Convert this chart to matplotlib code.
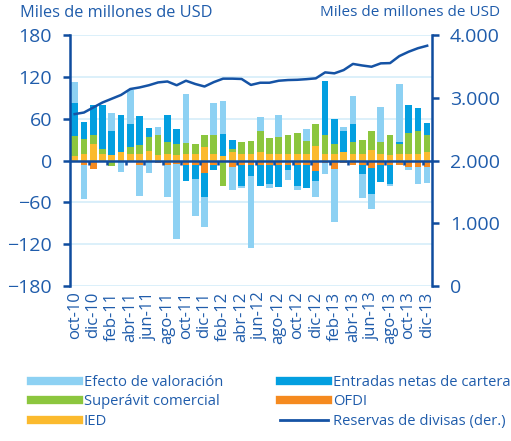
import numpy as np
import matplotlib.pyplot as plt
from matplotlib.lines import Line2D
from matplotlib.ticker import FuncFormatter

plt.rcParams['font.family'] = ['Open Sans', 'DejaVu Sans']

months = ['oct-10', 'nov-10', 'dic-10', 'ene-11', 'feb-11', 'mar-11', 'abr-11', 'may-11', 'jun-11',
          'jul-11', 'ago-11', 'sep-11', 'oct-11', 'nov-11', 'dic-11', 'ene-12', 'feb-12', 'mar-12',
          'abr-12', 'may-12', 'jun-12', 'jul-12', 'ago-12', 'sep-12', 'oct-12', 'nov-12', 'dic-12',
          'ene-13', 'feb-13', 'mar-13', 'abr-13', 'may-13', 'jun-13', 'jul-13', 'ago-13', 'sep-13',
          'oct-13', 'nov-13', 'dic-13']

# miles de millones de USD
ied = [7, 10, 23, 10, 8, 12, 9, 10, 13, 8, 9, 8, 9, 9, 19, 10, 6, 12, 9, 9, 12, 9, 9, 9, 9, 9, 21,
       10, 9, 12, 9, 10, 15, 10, 8, 10, 9, 9, 12]
ofdi = [-2, -7, -12, -2, -1, -1, -2, -7, -2, -3, -6, -5, -6, -6, -18, -6, -2, -9, -7, -6, -7, -7, -6,
        -6, -6, -6, -15, -3, -12, -3, -6, -6, -11, -7, -6, -6, -9, -10, -9]
superavit = [28, 21, 13, 7, -7, 0, 11, 12, 21, 29, 17, 15, 16, 14, 17, 27, -35, 5, 18, 19, 31, 23,
             25, 27, 31, 19, 31, 27, 14, -1, 18, 20, 27, 17, 29, 14, 31, 34, 25]
cartera = [48, 24, 43, 62, 35, 53, 32, 42, 12, 0, 39, 22, -24, -21, -35, -8, 32, 12, -29, -16, -29,
           -26, -32, -8, -31, -33, -15, 77, 37, 31, 26, -13, -37, -24, -27, 2, 40, 32, 17]
valoracion = [29, -48, 0, 0, 25, -15, 49, -44, -16, 11, -47, -107, 71, -53, -42, 46, 48, -33, -4,
              -103, 19, -7, 31, -14, -6, 17, -22, -17, -76, 5, 39, -35, -21, 50, -4, 84, -4, -23, -23]
# reservas de divisas, eje derecho
reservas = [2740, 2765, 2845, 2925, 2985, 3045, 3140, 3165, 3200, 3245, 3260, 3200, 3272, 3220,
            3180, 3250, 3305, 3305, 3300, 3205, 3240, 3240, 3272, 3283, 3287, 3297, 3310, 3405,
            3390, 3442, 3540, 3515, 3495, 3549, 3553, 3665, 3734, 3790, 3830]

dark = '#0F4C9E'
txt = '#1F5CAB'
grid_c = '#D6EDF9'
series = [(ied, '#FBBA2E', 'IED'),
          (ofdi, '#F58A1F', 'OFDI'),
          (superavit, '#8CC63E', 'Superávit comercial'),
          (cartera, '#039FE0', 'Entradas netas de cartera'),
          (valoracion, '#8DD1F3', 'Efecto de valoración')]

fig = plt.figure(figsize=(5.11, 4.41), dpi=100)
ax = fig.add_axes([0.137, 0.3515, 0.708, 0.569])
x = np.arange(len(months))

pos = np.zeros(len(x))
neg = np.zeros(len(x))
for vals, col, lab in series:
    v = np.array(vals, dtype=float)
    bottom = np.where(v >= 0, pos, neg)
    ax.bar(x, v, 0.72, bottom=bottom, color=col, edgecolor='none', zorder=2)
    pos += np.where(v >= 0, v, 0)
    neg += np.where(v < 0, v, 0)

ax.set_xlim(-0.5, len(x) - 0.5)
ax.set_ylim(-180, 180)
ax.set_yticks(np.arange(-180, 181, 60))
ax.yaxis.grid(True, color=grid_c, lw=1.2, zorder=0)
ax.set_axisbelow(True)
ax.axhline(0, color=dark, lw=1.8, zorder=3)
ax.vlines(np.arange(1.5, len(x), 2), -7, 0, color=dark, lw=1.8, zorder=3)

ax.set_xticks(x[::2])
ax.set_xticklabels(months[::2], rotation=90, fontsize=12, color=txt)
ax.tick_params(axis='x', length=0, pad=4)
ax.tick_params(axis='y', colors=dark, labelcolor=txt, labelsize=14, length=5, width=1.8, pad=8)
for s in ['top', 'bottom', 'right']:
    ax.spines[s].set_visible(False)
ax.spines['left'].set_color(dark)
ax.spines['left'].set_linewidth(1.8)

ax2 = ax.twinx()
ax2.plot(x, reservas, color='#1553A5', lw=1.8, zorder=4)
ax2.set_ylim(0, 4000)
ax2.set_yticks(np.arange(0, 4001, 1000))
ax2.yaxis.set_major_formatter(FuncFormatter(lambda v, p: f'{int(v):,}'.replace(',', '.')))
ax2.tick_params(axis='y', colors=dark, labelcolor=txt, labelsize=14, length=5, width=1.8, pad=8)
for s in ['top', 'bottom', 'left']:
    ax2.spines[s].set_visible(False)
ax2.spines['right'].set_color(dark)
ax2.spines['right'].set_linewidth(1.8)

fig.text(0.04, 0.988, 'Miles de millones de USD', fontsize=11.8, color=txt, va='top', ha='left')
fig.text(0.978, 0.988, 'Miles de millones de USD', fontsize=11, color=txt, va='top', ha='right')

handles = [Line2D([], [], color=series[4][1], lw=6),
           Line2D([], [], color=series[2][1], lw=6),
           Line2D([], [], color=series[0][1], lw=6),
           Line2D([], [], color=series[3][1], lw=6),
           Line2D([], [], color=series[1][1], lw=6),
           Line2D([], [], color='#1553A5', lw=2)]
labels = ['Efecto de valoración', 'Superávit comercial', 'IED',
          'Entradas netas de cartera', 'OFDI', 'Reservas de divisas (der.)']
leg = fig.legend(handles, labels, loc='upper left', bbox_to_anchor=(0.05, 0.163), ncol=2,
                 frameon=False, fontsize=10.6, handlelength=3.2, handletextpad=0.35,
                 columnspacing=3.9, labelspacing=0.3, borderaxespad=0)
for t in leg.get_texts():
    t.set_color(txt)

plt.savefig('out.png', dpi=100)
